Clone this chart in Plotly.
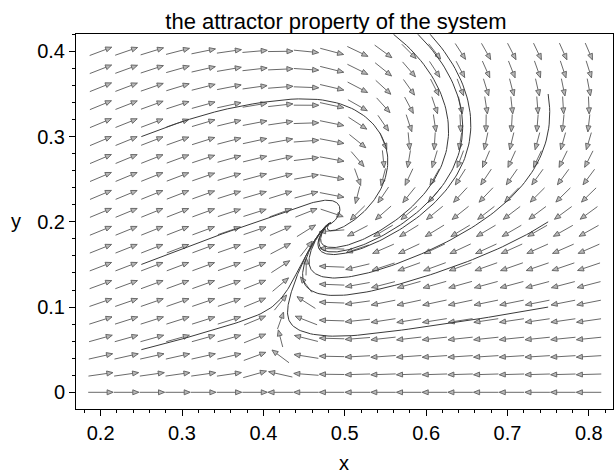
import numpy as np
import plotly.graph_objects as go

# ---------------- data ----------------
title_text = "the attractor property of the system"
x_label, y_label = "x", "y"

# direction-field grid (20 x 20 arrows)
x_grid = np.linspace(0.2, 0.8, 20)
y_grid = np.linspace(0.0, 0.4, 20)

# vector field:
#   dx/dt = y - phi(x),  phi(x) = lo + (hi - lo) * (1 - exp(-softplus(x - x1) / w))
#   dy/dt = y * amp(z) * tanh(z),  z = (x0 - y^3 - x) / (w0 + w1*y)
phi_lo, phi_hi = -0.06, 0.335
phi_x1, phi_w, phi_soft = 0.384, 0.0926, 0.01
g_amp_pos, g_amp_neg = 0.52, 0.4
g_x0, g_w0, g_w1 = 0.49, 0.02, 0.45

# initial points of the drawn trajectories
init_x = [0.25, 0.25, 0.25, 0.75, 0.75, 0.75, 0.56, 0.59, 0.605]
init_y = [0.05, 0.15, 0.30, 0.10, 0.20, 0.35, 0.42, 0.42, 0.42]

x_ticks = [0.2, 0.3, 0.4, 0.5, 0.6, 0.7, 0.8]
y_ticks = [0, 0.1, 0.2, 0.3, 0.4]
y_ticktext = ["0", "0.1", "0.2", "0.3", "0.4"]
x_range = [0.1697, 0.8297]
y_range = [-0.0196, 0.4204]


def field(x, y):
    sp = phi_soft * np.log1p(np.exp((x - phi_x1) / phi_soft))
    phi = phi_lo + (phi_hi - phi_lo) * (1.0 - np.exp(-sp / phi_w))
    fx = y - phi
    z = (g_x0 - y ** 3 - x) / (g_w0 + g_w1 * np.abs(y))
    t = np.tanh(z)
    amp = 0.5 * (g_amp_pos + g_amp_neg) + 0.5 * (g_amp_pos - g_amp_neg) * t
    fy = y * amp * t
    return fx, fy


# ---------------- geometry ----------------
W, H = 614, 473
ml, mr, mt, mb = 76, 1, 34, 64
pw, ph = W - ml - mr, H - mt - mb
sx = pw / (x_range[1] - x_range[0])
sy = ph / (y_range[1] - y_range[0])

dxg = x_grid[1] - x_grid[0]
dyg = y_grid[1] - y_grid[0]
X, Y = np.meshgrid(x_grid, y_grid)
U, V = field(X, Y)
nrm = np.sqrt((U / dxg) ** 2 + (V / dyg) ** 2)
scale = 0.97
AX = scale * U / nrm
AY = scale * V / nrm

shaft_x, shaft_y, head_x, head_y = [], [], [], []
hl, hw = 6.0, 2.5
for xc, yc, ax, ay in zip(X.ravel(), Y.ravel(), AX.ravel(), AY.ravel()):
    tx, ty = xc - ax / 2, yc - ay / 2
    px, py = xc + ax / 2, yc + ay / 2
    shaft_x += [tx, px, None]
    shaft_y += [ty, py, None]
    vx, vy = ax * sx, ay * sy
    L = np.hypot(vx, vy)
    ux, uy = vx / L, vy / L
    bx, by = px * sx - hl * ux, py * sy - hl * uy
    lx, ly = bx - hw * uy, by + hw * ux
    rx, ry = bx + hw * uy, by - hw * ux
    head_x += [px, lx / sx, rx / sx, px, None]
    head_y += [py, ly / sy, ry / sy, py, None]


# trajectories (RK4)
def f(p):
    a, b = field(p[0], p[1])
    return np.array([a, b])


P = np.array([init_x, init_y], dtype=float)
dt, nsteps = 0.02, 5000
traj = [P.copy()]
for _ in range(nsteps):
    k1 = f(P)
    k2 = f(P + dt / 2 * k1)
    k3 = f(P + dt / 2 * k2)
    k4 = f(P + dt * k3)
    P = P + dt / 6 * (k1 + 2 * k2 + 2 * k3 + k4)
    traj.append(P.copy())
traj = np.array(traj)

fig = go.Figure()
fig.add_trace(go.Scatter(x=shaft_x, y=shaft_y, mode="lines",
                         line=dict(color="#6a6a6a", width=1), hoverinfo="skip"))
fig.add_trace(go.Scatter(x=head_x, y=head_y, mode="lines", fill="toself",
                         fillcolor="#b8b8b8", line=dict(color="#6a6a6a", width=1),
                         hoverinfo="skip"))
for i in range(len(init_x)):
    fig.add_trace(go.Scatter(x=traj[::2, 0, i], y=traj[::2, 1, i], mode="lines",
                             line=dict(color="#3a3a3a", width=1), hoverinfo="skip"))

font_family = "Liberation Sans, Arial, Helvetica, sans-serif"
fig.update_layout(
    width=W, height=H, margin=dict(l=ml, r=mr, t=mt, b=mb),
    paper_bgcolor="white", plot_bgcolor="white", showlegend=False,
    font=dict(family=font_family, size=20, color="black"),
    title=dict(text=title_text, x=0.484, xref="paper", xanchor="center",
               y=1 - 21 / H, yref="container", yanchor="middle",
               font=dict(size=22, family=font_family, color="black")),
    annotations=[
        dict(text=x_label, x=0.499, y=-0.144, xref="paper", yref="paper",
             showarrow=False, xanchor="center", yanchor="middle",
             font=dict(size=20, family=font_family)),
        dict(text=y_label, x=-0.1117, y=0.501, xref="paper", yref="paper",
             showarrow=False, xanchor="center", yanchor="middle",
             font=dict(size=20, family=font_family)),
    ],
)
fig.update_xaxes(range=x_range, tickvals=x_ticks, ticktext=[str(v) for v in x_ticks],
                 ticks="outside", ticklen=6, tickcolor="black", showgrid=False,
                 zeroline=False, showline=True, linecolor="black", linewidth=1, mirror=True,
                 minor=dict(dtick=0.02, tick0=0, ticks="outside", ticklen=3, tickcolor="black"))
fig.update_yaxes(range=y_range, tickvals=y_ticks, ticktext=y_ticktext,
                 ticks="outside", ticklen=6, tickcolor="black", showgrid=False,
                 zeroline=False, showline=True, linecolor="black", linewidth=1, mirror=True,
                 minor=dict(dtick=0.02, tick0=0, ticks="outside", ticklen=3, tickcolor="black"))

fig.write_html("out.html", config={"displayModeBar": False},
               post_script="document.body.style.margin='0';")
